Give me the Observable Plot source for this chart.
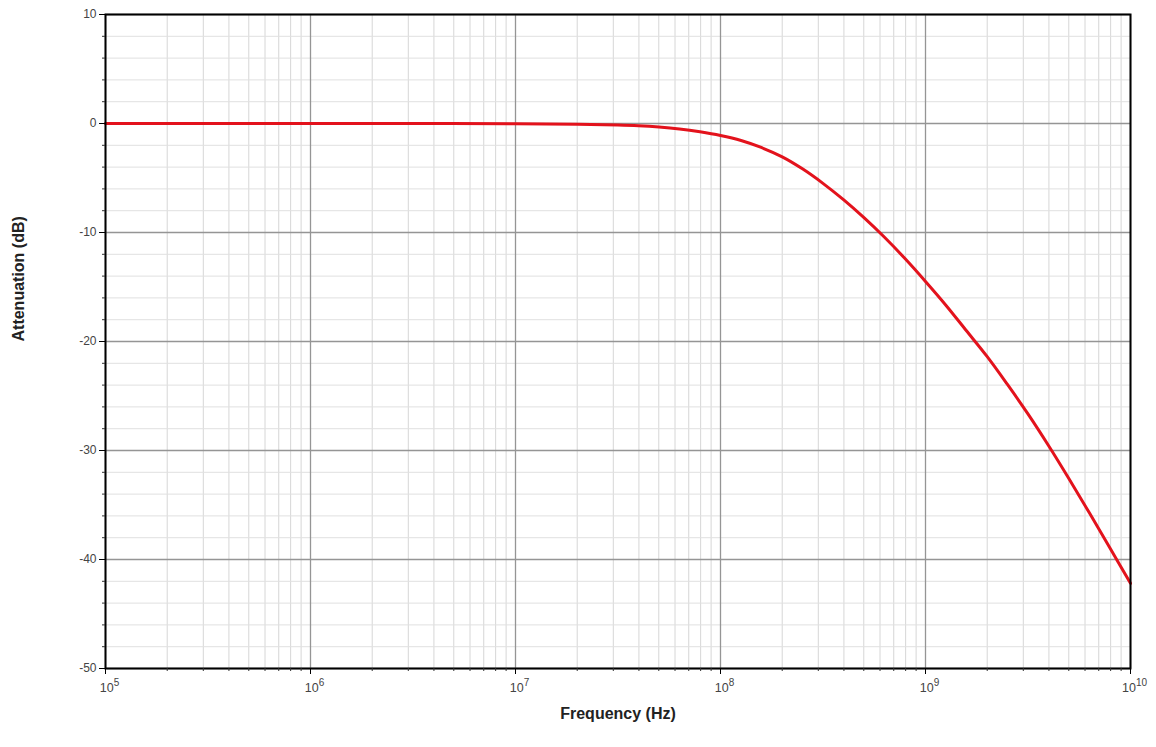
<!DOCTYPE html>
<html>
<head>
<meta charset="utf-8">
<script src="https://cdn.jsdelivr.net/npm/d3@7"></script>
<script src="https://cdn.jsdelivr.net/npm/@observablehq/plot@0.6"></script>
<style>
  html, body { margin: 0; padding: 0; background: #fff; }
  #chart svg { font-family: "Liberation Sans", Arial, sans-serif; }
</style>
</head>
<body>
<div id="chart"></div>
<script>
// Frequency (Hz) and attenuation (dB)
const frequency = [1e5, 1e6, 3e6, 1e7, 2e7, 3.16e7, 3.98e7, 5.01e7, 6.31e7, 7.94e7,
                   1e8, 1.26e8, 1.58e8, 2e8, 2.51e8, 3.16e8, 3.98e8, 5.01e8, 6.31e8, 7.94e8,
                   1e9, 1.26e9, 1.58e9, 2e9, 2.51e9, 3.16e9, 3.98e9, 5.01e9, 6.31e9, 7.94e9, 1e10];
const attenuation = [0, 0, -0.005, -0.02, -0.06, -0.13, -0.2, -0.32, -0.5, -0.76,
                     -1.1, -1.56, -2.2, -3.06, -4.16, -5.49, -6.99, -8.64, -10.44, -12.39,
                     -14.49, -16.69, -18.99, -21.39, -23.94, -26.64, -29.54, -32.59, -35.74, -38.94, -42.19];

// Axis ticks
const xTicks = [1e5, 1e6, 1e7, 1e8, 1e9, 1e10];
const xTickBase = "10";
const xTickExponents = ["5", "6", "7", "8", "9", "10"];
const minorMultipliers = [2, 3, 4, 5, 6, 7, 8, 9];
const yTicks = [-50, -40, -30, -20, -10, 0, 10];
const yMinorTicks = [-48, -46, -44, -42, -38, -36, -34, -32, -28, -26, -24, -22, -18, -16, -14, -12,
                     -8, -6, -4, -2, 2, 4, 6, 8];

const xLabel = "Frequency (Hz)";
const yLabel = "Attenuation (dB)";

const data = frequency.map((f, i) => ({f, a: attenuation[i]}));
const xMinor = xTicks.slice(0, -1).flatMap(d => minorMultipliers.map(m => d * m));
const fmtX = d => {
  const i = xTicks.indexOf(d);
  return i < 0 ? "" : xTickBase + "^" + xTickExponents[i];
};

const chart = Plot.plot({
  width: 1156,
  height: 747,
  marginTop: 14,
  marginBottom: 79,
  marginLeft: 105,
  marginRight: 26,
  x: {type: "log", domain: [1e5, 1e10]},
  y: {domain: [-50, 10]},
  marks: [
    Plot.ruleX(xMinor, {stroke: "#d6d6d6", strokeWidth: 1}),
    Plot.ruleY(yMinorTicks, {stroke: "#e0e0e0", strokeWidth: 1}),
    Plot.ruleX(xTicks, {stroke: "#959595", strokeWidth: 1.3}),
    Plot.ruleY(yTicks, {stroke: "#959595", strokeWidth: 1.3}),
    Plot.line(data, {x: "f", y: "a", stroke: "#e3121c", strokeWidth: 3, curve: "catmull-rom"}),
    Plot.frame({stroke: "#000", strokeWidth: 2}),
    Plot.axisX({ticks: xMinor, tickFormat: () => "", tickSize: 3, stroke: "#333", label: null}),
    Plot.axisY({ticks: yMinorTicks, tickFormat: () => "", tickSize: 3, stroke: "#333", label: null}),
    Plot.axisX({ticks: xTicks, tickFormat: fmtX, tickSize: 6, tickPadding: 9, fontSize: 12.5, fill: "#444", stroke: "#000", label: null}),
    Plot.axisY({ticks: yTicks, tickFormat: d => String(d).replace("−", "-"), tickSize: 6, tickPadding: 3, fontSize: 12, fill: "#444", stroke: "#000", label: null}),
    Plot.text([xLabel], {frameAnchor: "bottom", dy: 50, text: d => d, fontSize: 16, fontWeight: "bold", fill: "#222"}),
    Plot.text([yLabel], {frameAnchor: "left", dx: -87, rotate: -90, text: d => d, fontSize: 16, fontWeight: "bold", fill: "#222"})
  ]
});

// Render "10^n" tick labels with a raised exponent
chart.querySelectorAll("text").forEach(t => {
  const m = /^(\d+)\^(\d+)$/.exec(t.textContent);
  if (!m) return;
  t.textContent = "";
  const ns = "http://www.w3.org/2000/svg";
  const b = document.createElementNS(ns, "tspan");
  b.textContent = m[1];
  const e = document.createElementNS(ns, "tspan");
  e.textContent = m[2];
  e.setAttribute("dy", "-6");
  e.setAttribute("font-size", "10");
  t.appendChild(b);
  t.appendChild(e);
  t.setAttribute("dx", "4");
});
document.getElementById("chart").appendChild(chart);
</script>
</body>
</html>
